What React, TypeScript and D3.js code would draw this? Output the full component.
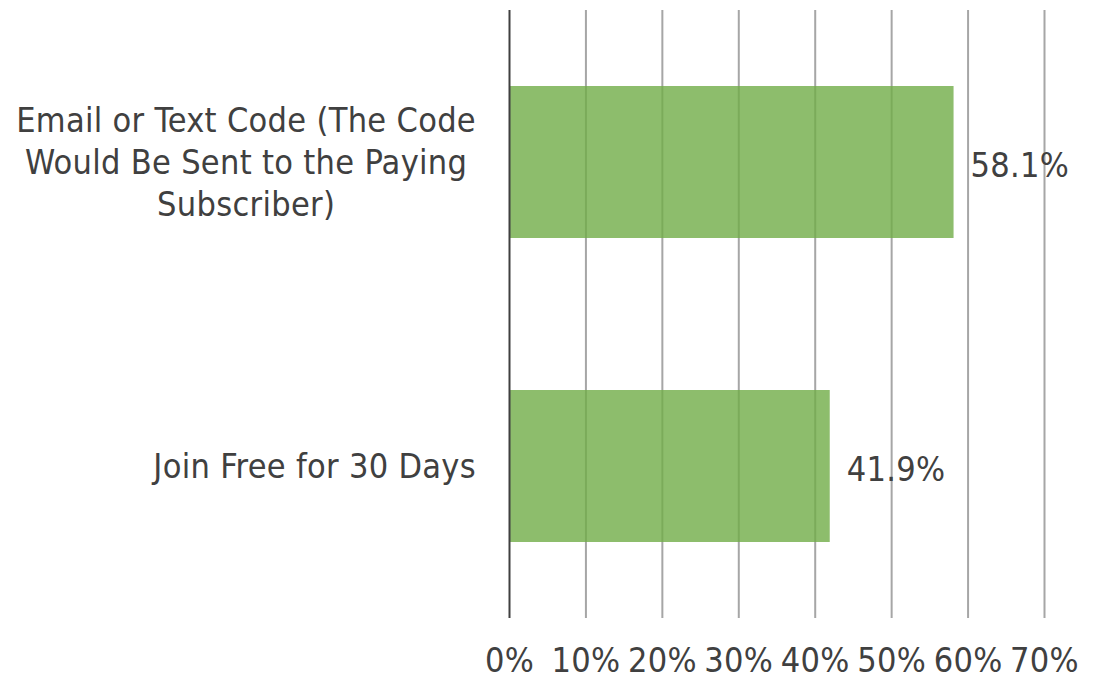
import React from "react";
import * as d3 from "d3";

const categories: string[][] = [
  ["Email or Text Code (The Code", "Would Be Sent to the Paying", "Subscriber)"],
  ["Join Free for 30 Days"],
];
const values: number[] = [58.1, 41.9];
const ticks: number[] = [0, 10, 20, 30, 40, 50, 60, 70];

const W = 1097;
const H = 680;
const FONT = "'DejaVu Sans Condensed', 'DejaVu Sans', Verdana, sans-serif";
const FS = 34;
const LS = 0.3;

function measure(t: string): number {
  const c = document.createElement("canvas").getContext("2d");
  if (!c) return t.length * FS * 0.5;
  c.font = `${FS}px ${FONT}`;
  return c.measureText(t).width + LS * t.length;
}

export default function App() {
  const x = d3.scaleLinear().domain([0, 70]).range([509.5, 1044.5]);
  const y = d3
    .scaleBand<number>()
    .domain(values.map((_, i) => i))
    .range([10, 618])
    .paddingInner(0.5)
    .paddingOuter(0.25);
  const labelRight = 476;
  const lineH = 42;
  const textColor = "#404040";

  return (
    <svg
      width={W}
      height={H}
      style={{ position: "absolute", left: 0, top: 0 }}
      fontFamily={FONT}
      letterSpacing={LS}
    >
      <rect width={W} height={H} fill="#fff" />
      {ticks.slice(1).map((t) => (
        <line key={t} x1={x(t)} x2={x(t)} y1={10} y2={618} stroke="#a6a6a6" strokeWidth={2} />
      ))}
      {values.map((v, i) => (
        <rect
          key={i}
          x={x(0)}
          y={y(i)}
          width={x(v) - x(0)}
          height={y.bandwidth()}
          fill="#70AD47"
          fillOpacity={0.8}
        />
      ))}
      <line x1={x(0)} x2={x(0)} y1={10} y2={618} stroke="#404040" strokeWidth={2} />
      {values.map((v, i) => (
        <text
          key={i}
          x={x(v) + 17}
          y={(y(i) as number) + y.bandwidth() / 2 + 14.5}
          fontSize={FS}
          fill={textColor}
        >
          {v.toFixed(1) + "%"}
        </text>
      ))}
      {categories.map((lines, i) => {
        const maxW = Math.max(...lines.map(measure));
        const cx = labelRight - maxW / 2;
        const cy = (y(i) as number) + y.bandwidth() / 2;
        const start = cy - ((lines.length - 1) * lineH) / 2;
        return (
          <text key={i} textAnchor="middle" fontSize={FS} fill={textColor}>
            {lines.map((l, j) => (
              <tspan key={j} x={cx} y={start + j * lineH + 11.5}>
                {l}
              </tspan>
            ))}
          </text>
        );
      })}
      {ticks.map((t) => (
        <text key={t} x={x(t)} y={672} textAnchor="middle" fontSize={FS} fill={textColor}>
          {t + "%"}
        </text>
      ))}
    </svg>
  );
}
